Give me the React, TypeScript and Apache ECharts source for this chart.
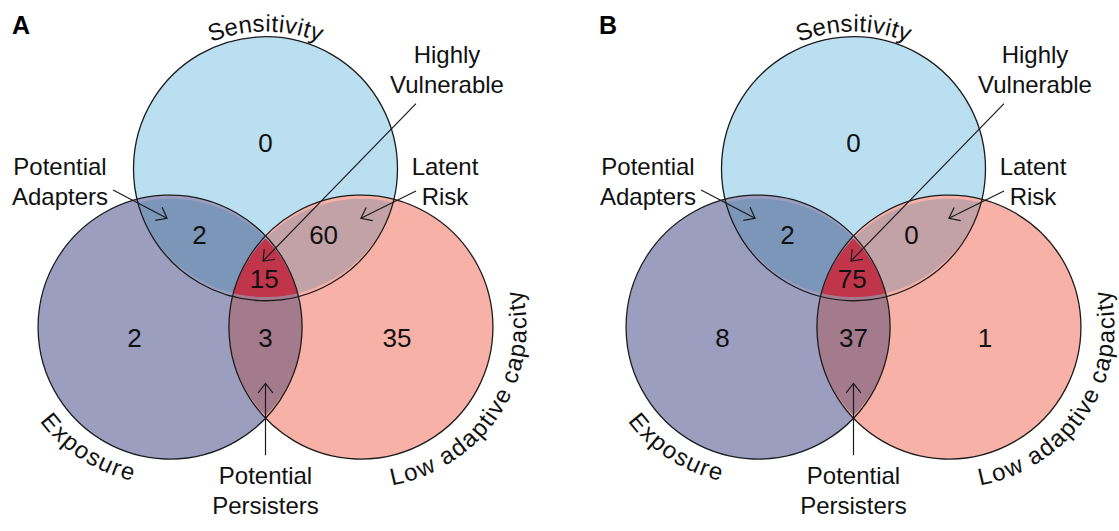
import React, { useEffect, useRef } from "react";
import * as echarts from "echarts";

// ---------------- data ----------------
const PANEL_LABELS = ["A", "B"];
const SET_NAMES = ["Sensitivity", "Exposure", "Low adaptive capacity"];
const REGION_NAMES = [
  "Sensitivity only",
  "Exposure only",
  "Low adaptive capacity only",
  "Potential Adapters",
  "Latent Risk",
  "Potential Persisters",
  "Highly Vulnerable",
];
const REGION_SETS = [[0], [1], [2], [0, 1], [0, 2], [1, 2], [0, 1, 2]];
const COUNTS_A = [0, 2, 35, 2, 60, 3, 15];
const COUNTS_B = [0, 8, 1, 2, 0, 37, 75];
const PANEL_COUNTS = [COUNTS_A, COUNTS_B];
const CALLOUT_TEXTS = ["Highly\nVulnerable", "Potential\nAdapters", "Latent\nRisk", "Potential\nPersisters"];

// ---------------- layout (units of circle radius) ----------------
const CIRCLE_CENTERS = [
  [0, 0.823],
  [-0.723, -0.411],
  [0.723, -0.411],
];
const CIRCLE_R = 1;
const REGION_FILLS = ["#b9dff1", "#9c9ec0", "#f7b1a6", "#7b96b9", "#c2a2a6", "#a37b8d", "#c1354b"];
const COUNT_POS = [
  [0, 1.023],
  [-0.992, -0.498],
  [0.996, -0.498],
  [-0.5, 0.305],
  [0.44, 0.305],
  [0, -0.498],
  [-0.01, -0.033],
];
const CALLOUT_POS = [
  [1.375, 1.596],
  [-1.557, 0.721],
  [1.36, 0.725],
  [0, -1.688],
];
const ARROWS = [
  [[1.14, 1.331], [-0.019, 0.104]],
  [[-1.155, 0.657], [-0.746, 0.437]],
  [[1.14, 0.649], [0.723, 0.437]],
  [[0, -1.41], [0, -0.85]],
];
const SET_LABEL_ARC = [
  { angle: 90, radius: 1.135, dir: "cw" },
  { angle: -123.5, radius: 1.165, dir: "ccw" },
  { angle: -33, radius: 1.19, dir: "ccw" },
];
const GRID_LEFT = [1.5, 589.5];
const GRID_TOP = 17.7;
const GRID_SIZE = 528;
const FONT_FAMILY = '"Liberation Sans", Arial, Helvetica, sans-serif';
const CURVE_FONT_SIZE = 24;
const LETTER_SPACING = 0.9;
const TEXT_COLOR = "#111";
const LINE_COLOR = "#1c1c1c";

// ---------------- geometry helpers ----------------
function dist(a: number[], b: number[]) {
  return Math.hypot(a[0] - b[0], a[1] - b[1]);
}
function intersections(i: number, j: number) {
  const c1 = CIRCLE_CENTERS[i];
  const c2 = CIRCLE_CENTERS[j];
  const dx = c2[0] - c1[0];
  const dy = c2[1] - c1[1];
  const d = Math.hypot(dx, dy);
  const h = Math.sqrt(CIRCLE_R * CIRCLE_R - (d * d) / 4);
  const mx = (c1[0] + c2[0]) / 2;
  const my = (c1[1] + c2[1]) / 2;
  const nx = -dy / d;
  const ny = dx / d;
  return [
    [mx + h * nx, my + h * ny],
    [mx - h * nx, my - h * ny],
  ];
}
function arc(k: number, p: number[], q: number[], n = 60) {
  const c = CIRCLE_CENTERS[k];
  const a0 = Math.atan2(p[1] - c[1], p[0] - c[0]);
  const a1 = Math.atan2(q[1] - c[1], q[0] - c[0]);
  let d = a1 - a0;
  while (d > Math.PI) d -= 2 * Math.PI;
  while (d < -Math.PI) d += 2 * Math.PI;
  const pts: number[][] = [];
  for (let t = 0; t <= n; t++) {
    const a = a0 + (d * t) / n;
    pts.push([c[0] + CIRCLE_R * Math.cos(a), c[1] + CIRCLE_R * Math.sin(a)]);
  }
  return pts;
}
function innerPoint(i: number, j: number) {
  const k = 3 - i - j;
  const [p, q] = intersections(i, j);
  const c = CIRCLE_CENTERS[k];
  return dist(p, c) < dist(q, c) ? p : q;
}
function regionPolygon(sets: number[]) {
  if (sets.length === 2) {
    const [i, j] = sets;
    const [p, q] = intersections(i, j);
    return [...arc(i, p, q), ...arc(j, q, p)];
  }
  const vEL = innerPoint(1, 2);
  const vSL = innerPoint(0, 2);
  const vSE = innerPoint(0, 1);
  return [...arc(2, vEL, vSL), ...arc(0, vSL, vSE), ...arc(1, vSE, vEL)];
}

let measureCtx: CanvasRenderingContext2D | null = null;
function charWidths(text: string, fontSize: number) {
  if (!measureCtx) measureCtx = document.createElement("canvas").getContext("2d");
  const ctx = measureCtx!;
  ctx.font = `${fontSize}px ${FONT_FAMILY}`;
  return Array.from(text).map((ch) => ctx.measureText(ch).width);
}

function curvedText(k: number, label: string, cfg: any, api: any, unitPx: number) {
  const chars = Array.from(label);
  const widths = charWidths(label, CURVE_FONT_SIZE);
  const total = widths.reduce((a, b) => a + b + LETTER_SPACING, 0) - LETTER_SPACING;
  const Rpx = cfg.radius * unitPx;
  const c = CIRCLE_CENTERS[k];
  const thetaC = (cfg.angle * Math.PI) / 180;
  let s = 0;
  const out: any[] = [];
  chars.forEach((ch, i) => {
    const mid = s + widths[i] / 2;
    const off = (mid - total / 2) / Rpx;
    const th = cfg.dir === "cw" ? thetaC - off : thetaC + off;
    const p = api.coord([c[0] + cfg.radius * Math.cos(th), c[1] + cfg.radius * Math.sin(th)]);
    const rotation = cfg.dir === "cw" ? th - Math.PI / 2 : th + Math.PI / 2;
    out.push({
      type: "text",
      x: p[0],
      y: p[1],
      rotation,
      z2: 20,
      style: {
        text: ch,
        fontSize: CURVE_FONT_SIZE,
        fontFamily: FONT_FAMILY,
        fill: TEXT_COLOR,
        align: "center",
        verticalAlign: "middle",
        textAlign: "center",
        textVerticalAlign: "middle",
      },
    });
    s += widths[i] + LETTER_SPACING;
  });
  return out;
}

function arrowElements(start: number[], tip: number[], api: any) {
  const a = api.coord(start);
  const b = api.coord(tip);
  const dx = b[0] - a[0];
  const dy = b[1] - a[1];
  const len = Math.hypot(dx, dy);
  const bx = -dx / len;
  const by = -dy / len;
  const L = 12;
  const ang = (38 * Math.PI) / 180;
  const rot = (x: number, y: number, t: number) => [x * Math.cos(t) - y * Math.sin(t), x * Math.sin(t) + y * Math.cos(t)];
  const l1 = rot(bx, by, ang);
  const l2 = rot(bx, by, -ang);
  return [
    {
      type: "line",
      z2: 15,
      shape: { x1: a[0], y1: a[1], x2: b[0], y2: b[1] },
      style: { stroke: LINE_COLOR, lineWidth: 1.2 },
    },
    {
      type: "polyline",
      z2: 15,
      shape: {
        points: [
          [b[0] + l1[0] * L, b[1] + l1[1] * L],
          [b[0], b[1]],
          [b[0] + l2[0] * L, b[1] + l2[1] * L],
        ],
      },
      style: { stroke: LINE_COLOR, lineWidth: 1.2, fill: "none" },
    },
  ];
}

function buildOption() {
  const grid: any[] = [];
  const xAxis: any[] = [];
  const yAxis: any[] = [];
  const series: any[] = [];
  PANEL_LABELS.forEach((_, pi) => {
    grid.push({ left: GRID_LEFT[pi], top: GRID_TOP, width: GRID_SIZE, height: GRID_SIZE });
    xAxis.push({ type: "value", gridIndex: pi, min: -2, max: 2, show: false });
    yAxis.push({ type: "value", gridIndex: pi, min: -2, max: 2, show: false });
    const counts = PANEL_COUNTS[pi];
    series.push({
      type: "custom",
      name: `regions-${PANEL_LABELS[pi]}`,
      xAxisIndex: pi,
      yAxisIndex: pi,
      silent: true,
      z: 2,
      data: REGION_NAMES.map((name, i) => ({ name, value: [i, counts[i]] })),
      renderItem: (params: any, api: any) => {
        const idx = api.value(0);
        const count = api.value(1);
        const sets = REGION_SETS[idx];
        const unitPx = api.size([1, 1])[0];
        let shape: any;
        if (sets.length === 1) {
          const c = api.coord(CIRCLE_CENTERS[sets[0]]);
          shape = {
            type: "circle",
            shape: { cx: c[0], cy: c[1], r: CIRCLE_R * unitPx },
            style: { fill: REGION_FILLS[idx] },
          };
        } else {
          shape = {
            type: "polygon",
            shape: { points: regionPolygon(sets).map((p) => api.coord(p)) },
            style: { fill: REGION_FILLS[idx] },
          };
        }
        const tp = api.coord(COUNT_POS[idx]);
        return {
          type: "group",
          children: [
            shape,
            {
              type: "text",
              x: tp[0],
              y: tp[1],
              z2: 30,
              style: {
                text: String(count),
                fontSize: 26,
                fontFamily: FONT_FAMILY,
                fill: TEXT_COLOR,
                align: "center",
                verticalAlign: "middle",
                textAlign: "center",
                textVerticalAlign: "middle",
              },
            },
          ],
        };
      },
    });
    series.push({
      type: "custom",
      name: `decor-${PANEL_LABELS[pi]}`,
      xAxisIndex: pi,
      yAxisIndex: pi,
      silent: true,
      z: 3,
      data: [[0, 0]],
      renderItem: (params: any, api: any) => {
        const unitPx = api.size([1, 1])[0];
        const children: any[] = [];
        CIRCLE_CENTERS.forEach((c) => {
          const p = api.coord(c);
          children.push({
            type: "circle",
            shape: { cx: p[0], cy: p[1], r: CIRCLE_R * unitPx },
            style: { fill: "none", stroke: LINE_COLOR, lineWidth: 1.3 },
          });
        });
        ARROWS.forEach(([s, t]) => children.push(...arrowElements(s, t, api)));
        CALLOUT_TEXTS.forEach((txt, i) => {
          const p = api.coord(CALLOUT_POS[i]);
          children.push({
            type: "text",
            x: p[0],
            y: p[1],
            z2: 20,
            style: {
              text: txt,
              fontSize: 24,
              lineHeight: 30,
              fontFamily: FONT_FAMILY,
              fill: TEXT_COLOR,
              align: "center",
              verticalAlign: "middle",
              textAlign: "center",
              textVerticalAlign: "middle",
            },
          });
        });
        SET_NAMES.forEach((nm, k) => children.push(...curvedText(k, nm, SET_LABEL_ARC[k], api, unitPx)));
        return { type: "group", children };
      },
    });
  });

  return {
    animation: false,
    backgroundColor: "#ffffff",
    grid,
    xAxis,
    yAxis,
    series,
    graphic: PANEL_LABELS.map((lab, i) => ({
      type: "text",
      left: i === 0 ? 12 : 599,
      top: 12,
      style: {
        text: lab,
        fontSize: 25,
        fontWeight: "bold",
        fontFamily: FONT_FAMILY,
        fill: "#000",
      },
    })),
  };
}

export default function App() {
  const ref = useRef<HTMLDivElement>(null);
  useEffect(() => {
    if (!ref.current) return;
    const chart = echarts.init(ref.current, null, { renderer: "svg" });
    chart.setOption(buildOption() as any);
    return () => chart.dispose();
  }, []);
  return (
    <div
      ref={ref}
      style={{ position: "fixed", left: 0, top: 0, width: 1119, height: 531, background: "#fff" }}
    />
  );
}
